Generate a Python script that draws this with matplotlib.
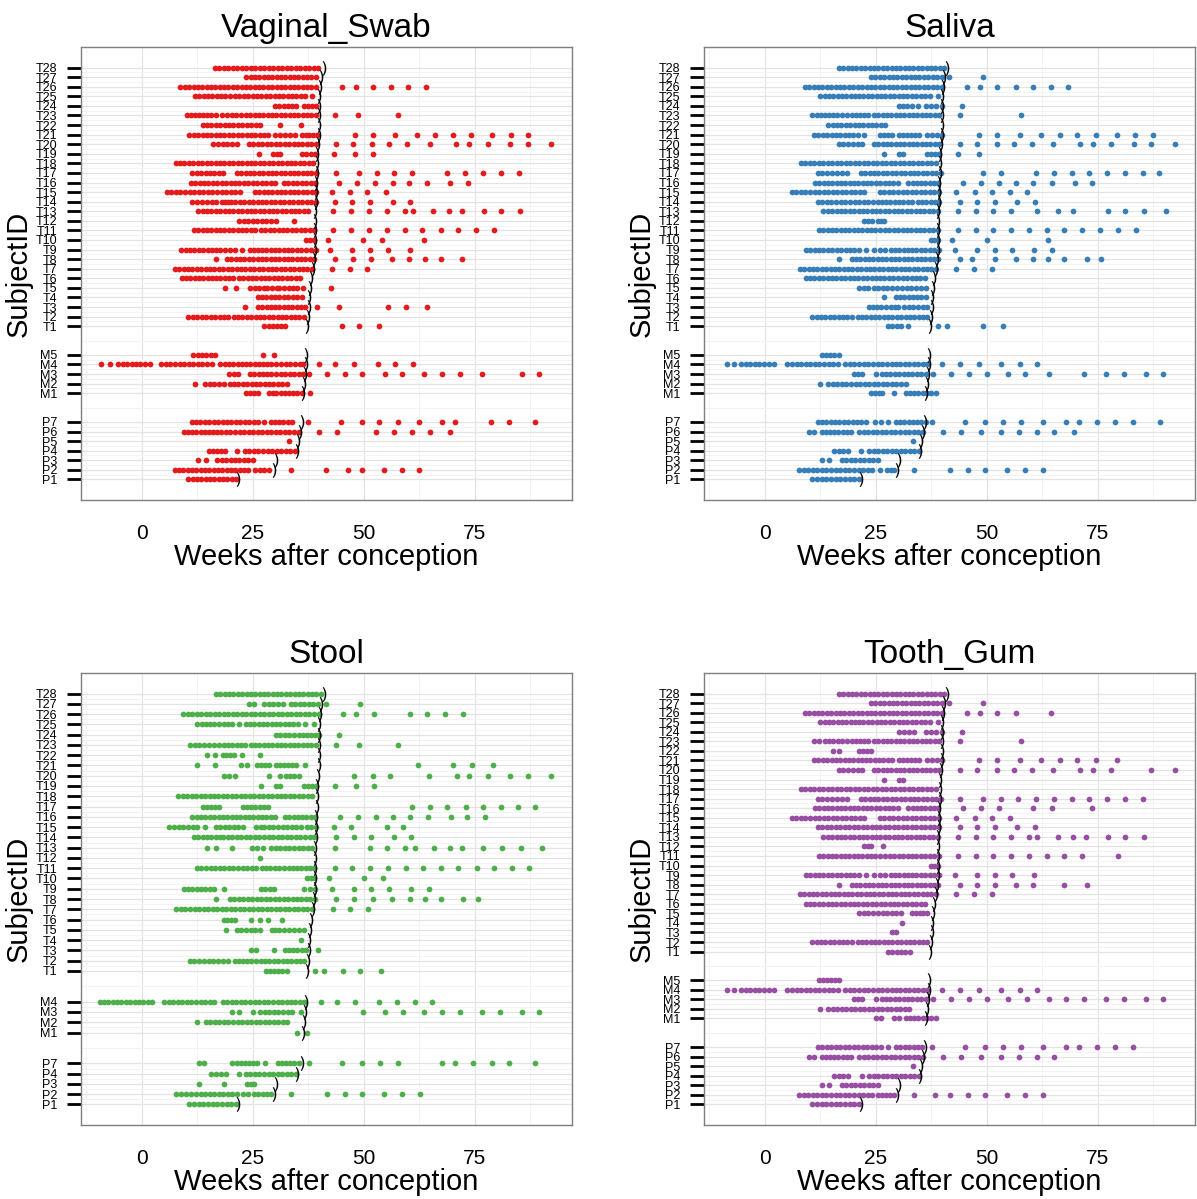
import numpy as np
import matplotlib
matplotlib.use("Agg")
import matplotlib.pyplot as plt

plt.rcParams['font.family'] = ['Liberation Sans', 'DejaVu Sans']

# Sampling weeks per subject. "a:b" is a run of weekly samples from a to b.
vaginal_swab = {
    "T28": "16.4:39.7",
    "T27": "23.5:39.2",
    "T26": "8.7:39.2, 45.2, 48.2, 52.1, 56.2, 60, 64.1",
    "T25": "12:19.8, 21:36.8, 38.4",
    "T24": "30:34.8, 36.5:39.2",
    "T23": "10.1:16.6, 18.1:23.4, 24.4:39.2, 43.6, 48.6, 57.6",
    "T22": "13.7:26.6, 31.1, 35.8",
    "T21": "10.7:20.6, 21.7:28.5, 30:34.5, 36:39.5, 48.1, 52.1, 57.1, 62, 66.1, 70.1, 74.2, 78.9, 83.1, 87.1",
    "T20": "16.1:21.4, 24.1:39.2, 43.8, 47.6, 51.9, 55.7, 59.8, 64.9, 70.7, 73.7, 77.9, 82.9, 86.9, 92.2",
    "T19": "26.4, 29.6:31.1, 36:39, 43.3, 48.1, 52.1",
    "T18": "7.6:38.6",
    "T17": "11.4:18.3, 21.4:39.2, 43.8, 48.9, 52.9, 56.9, 60.9, 68.8, 72.9, 76.9, 80.9, 84.9",
    "T16": "11:30, 32:39, 44.4, 48.4, 52.5, 56.5, 60.2, 64.3, 69.5, 73.5",
    "T15": "5.6:22.1, 25.5:39.2, 42.9, 47, 50.8, 54.9",
    "T14": "11.4:16.8, 18:19.5, 20:39.2, 43.6, 47.4, 51.5, 56.6, 60.5",
    "T13": "12.7:37.5, 43.1, 47.2, 51.2, 55.3, 59.2, 61.1, 65.6, 69.2, 72.1, 77, 81, 85.1",
    "T12": "22:29, 30.2, 34.3",
    "T11": "11.7:25.5, 26.8:38.8, 43.1, 47.2, 51.2, 55.3, 59.2, 63.2, 67.3, 71.2, 75.2, 79.3",
    "T10": "37:38.8, 42, 49.9, 54.2, 63.5",
    "T9": "8.9:16.8, 17.7:21, 22.5, 24.4:27, 28:33, 33.8:39.2, 42.5, 47.4, 51.5, 55.5, 60.4",
    "T8": "16.6, 19.2:38.8, 43.6, 47.6, 51.6, 56.3, 60.2, 63.7, 67.3, 72.2",
    "T7": "7.4:38.3, 42.9, 46.8, 50.7",
    "T6": "9:20.6, 21.9:35.6",
    "T5": "18.7, 21.2, 24.4:27.5, 28.3:30.4, 31:34.1, 34.9:36.2, 42.6",
    "T4": "26.2:28, 29:36",
    "T3": "23.2, 26.2:30, 31:36.8, 39.5, 44.4, 55.5, 59.6, 64.3",
    "T2": "10.5:19.5, 20.7:36.5",
    "T1": "27.6:32.3, 45.1, 48.9, 53.4",
    "M5": "11.6:16.5, 27.4, 29.8",
    "M4": "-9.1, -7.2, -5.3:-2.3, -1.4:1.8, 4.4:15.7, 17.7:28.3, 29.2:35.6, 36.4, 39.9, 43.6, 47.7, 53.1, 57.1, 61.1",
    "M3": "19.7:21.7, 24.4:28.3, 29.2:36.4, 37.7, 41.7, 45.7, 49.6, 54.7, 58.7, 63.6, 67.7, 71.6, 76.6, 85.7, 89.4",
    "M2": "12, 14.2:18.5, 19.8:32.6",
    "M1": "23.5:26.2, 28.7:30.2, 31.3:36, 37.8",
    "P7": "11.2:26.2, 27.5, 29:33.8, 37.5, 44.8, 49.5, 53.4, 57.6, 62.5, 67.6, 70.5, 78.6, 82.6, 88.6",
    "P6": "9.5:11.4, 12.3:19.8, 21:35.3, 39.9, 44, 52.8, 56.9, 60.9, 65, 69.5",
    "P5": "33.2",
    "P4": "15.2:18.7, 21.5, 23.2:34.5",
    "P3": "12.6, 14.4, 17:25",
    "P2": "7.4:24, 25.5:28.7, 33.5, 41.4, 46.5, 49.5, 54.5, 58.5, 62.4",
    "P1": "10.5:21.2",
}

saliva = {
    "T28": "16.7:40.4",
    "T27": "23.9:39.8, 41.6, 49.2",
    "T26": "9:39.8, 45.5, 48.4, 52.4, 56.5, 60.4, 64.5, 68.3",
    "T25": "12.5:20.3, 21.2:37.1, 38.9",
    "T24": "30.2:33.1, 34.6, 36.4:39.8, 44.5",
    "T23": "10.7:17.3, 18.6:23.3, 24.6:39.2, 43.9, 57.8",
    "T22": "14.3:27.1",
    "T21": "11.1:20.9, 22.4, 26:28.7, 30.2:34.7, 36.6:39.8, 48.2, 52.4, 57.4, 62.3, 66.4, 70.4, 74.5, 79.4, 83.3, 87.4",
    "T20": "16.6:22, 24.6:39.2, 44, 47.9, 52.2, 56.1, 60.1, 65, 71, 73.9, 78, 83.1, 87.1, 92.3",
    "T19": "26.9, 30.2:31.1, 36.6:39.2, 43.6, 48.2",
    "T18": "8.1:38.5",
    "T17": "11.9:18.4, 21.6:39.6, 49.1, 53.1, 61, 65.1, 69.1, 73.1, 77.1, 81.1, 85.1, 88.7",
    "T16": "11.3:29.9, 32.3:39.1, 44.6, 48.6, 52.7, 56.5, 60.5, 64.6, 69.8, 73.6",
    "T15": "6.1:22.4, 25.9:39.2, 43.1, 47.3, 51.1, 55.2, 59",
    "T14": "11.9:25.4, 26.3:33.2, 34.4:37.4, 38.3:39.2, 43.9, 47.9, 51.8, 56.7, 60.8",
    "T13": "13.2:38.9, 43.5, 47.5, 51.5, 55.5, 61.4, 66, 69.4, 77.3, 81.2, 85.4, 90.4",
    "T12": "22.4:24.2, 25.4:26.9",
    "T11": "12.2:25.9, 27.1:38.9, 43.5, 47.5, 51.5, 55.5, 59.5, 63.5, 67.5, 71.5, 75.5, 79.5, 83.5",
    "T10": "37.4:38.9, 42.2, 50.1, 63.8",
    "T9": "9.2:21.2, 22.9, 24.6:27.1, 28.4:33.2, 34.1:39.2, 42.8, 47.7, 51.8, 55.6, 60.6, 64.6",
    "T8": "16.7, 19.6:39.1, 43.9, 46.7, 51.8, 56.5, 60.5, 63.8, 67.4, 72.5, 75.8",
    "T7": "7.9:38.5, 43.1, 47.1, 51.1",
    "T6": "9.2:21.1, 22.1:28.9, 30.1:36",
    "T5": "21.2:23.3, 24.6:27.6, 28.7:32.1, 32.9:36.2",
    "T4": "26.9, 29.5:36.2",
    "T3": "23.5:27.2, 28.4:30.1, 31.4:36.6",
    "T2": "10.7:19.6, 20.9:36.6",
    "T1": "27.8:30.6, 32.3, 39, 41.1, 49.2, 53.7",
    "M5": "12.8:16.6",
    "M4": "-8.6, -7, -5.3:-2.3, -1.3:2.1, 5.1:16.4, 18.1:28.6, 29.5:36.6, 39.8, 44, 48.2, 53.3, 57.4, 61.4",
    "M3": "20.1:21.8, 25, 26.3:36.2, 37.9, 41.9, 46, 50, 54.8, 58.7, 64, 72, 76.9, 81, 85.9, 89.6",
    "M2": "12.5, 14.3:31.7",
    "M1": "23.9:26.5, 29.1, 31.7:38.5",
    "P7": "11.9:22.7, 24.8:26.1, 27.8, 29.5:36.2, 37.7, 45, 49.7, 53.7, 57.8, 62.7, 67.9, 70.7, 74.9, 78.8, 82.9, 89",
    "P6": "10:11.1, 12.8:19.4, 21.2:35.6, 40.1, 44.1, 48.6, 53.3, 57.2, 61.2, 65.1, 69.6",
    "P5": "33.4",
    "P4": "15.5:18.8, 21.6, 23.5:34.7",
    "P3": "12.8, 14.5, 17.3:25.4",
    "P2": "7.7:24.2, 25.9, 27.6:29.1, 33.7, 41.7, 45.8, 49.7, 54.6, 58.7, 62.6",
    "P1": "10.7:21.2",
}

stool = {
    "T28": "16.7:40.3",
    "T27": "24.2:25.3, 27.6:31.7, 33.6:39.6, 41.4, 49.2",
    "T26": "9.3:39.8, 45.4, 48.3, 52.3, 60.3, 64.3, 68.2, 72.4",
    "T25": "12.5:17.3, 18.5:20.3, 21.8, 23.4:35.1, 36.8, 38.8",
    "T24": "30.2:35.3, 36.3:39.9, 44.4",
    "T23": "10.8:17.3, 18.5:23.3, 24.5:39.2, 43.8, 48.9, 57.8",
    "T22": "14.6, 16.5, 18.2:20.8, 22.5, 26.7",
    "T21": "12.4, 16.4, 22.3:23.6, 26:28.7, 30.2:34.7, 36.8, 62.3, 70.2, 74.3, 79.2",
    "T20": "18.5:21, 28.7, 31.1, 32.4:35.3, 47.8, 52.1, 55.9, 64.7, 70.9, 73.7, 77.9, 82.9, 86.9, 92.1",
    "T19": "26.8, 30.2:31.1, 36.6:39.2, 43.5, 48.2, 52.2",
    "T18": "8.2:38.4",
    "T17": "13.7:17.3, 22.7:28.5, 60.8, 64.9, 68.8, 73, 76.9, 80.9, 84.8, 88.5",
    "T16": "11.4:30, 32.3:39, 44.6, 48.6, 52.7, 56.5, 60.4, 64.5, 69.6, 73.3, 77.3",
    "T15": "6.2:12.5, 14.2, 16.7:22.7, 25.8:26.8, 27.6:35.8, 37.1:39.2, 43.2, 47.2, 55.2, 58.9",
    "T14": "11.8:17.6, 18.3:38.8, 43.8, 47.8, 51.7, 56.7, 60.7",
    "T13": "14.6, 16.7, 20.4, 24.8:27.2, 29.1:38.4, 43.5, 51.4, 55.3, 59.3, 61.6, 65.8, 69.4, 72.2, 76.9, 81.2, 85.4, 90.2",
    "T12": "26.7",
    "T11": "12.4:25.8, 27:30.9, 32.1:38.8, 43.5, 47.4, 51.4, 55.5, 59.5, 63.4, 67.3, 71.3, 75.4, 79.4, 83.3, 87.2",
    "T10": "37.3:38.8, 42.2, 50.1, 54.4",
    "T9": "9.4:16.3, 18.4, 26.8:29.8, 36.6:39, 42.8, 47.7, 51.7, 55.6, 60.6, 64.6",
    "T8": "16.8, 19.8:39, 43.8, 47.8, 52, 56.3, 60.4, 63.7, 67.3, 72.4, 75.7",
    "T7": "7.8:38.3, 43.1, 46.9, 51",
    "T6": "18.4:21, 24.5, 26.6, 28.5, 31.5",
    "T5": "18.9, 21.4:26.6, 29.3:30.8, 32.1:36.6",
    "T4": "35.8",
    "T3": "24.5:25.7, 29.8, 32.3:36.9, 39.7",
    "T2": "10.8:19.3, 21:24.5, 25.8:36.6",
    "T1": "27.9:32.6, 39, 41.1, 45.3, 49.2, 53.8",
    "M4": "-9.5:2.3, 5:16.3, 18.2:28.5, 29.6:36.6, 40.3, 43.9, 48, 53.5, 57.4, 61.5, 65.3",
    "M3": "20.4:21.8, 25, 26.6:33.9, 35.9, 49.9, 54.8, 58.8, 63.6, 67.6, 71.7, 76.7, 80.7, 85.7, 89.5",
    "M2": "12.5, 14.4:32.8",
    "M1": "35, 37.1",
    "P7": "12.8:14, 20.4:26, 27.8, 30.6:35.3, 37.7, 45, 49.7, 53.7, 57.8, 67.7, 70.6, 74.7, 78.8, 82.7, 88.6",
    "P4": "15.5:18.9, 21.8, 23.4:34.7",
    "P3": "12.9, 18.4, 23.8:25.3",
    "P2": "7.7:12.2, 13.3:20.4, 21.5:24, 25.3:29.1, 33.7, 41.7, 45.7, 49.7, 54.6, 58.6, 62.6",
    "P1": "10.7:21.2",
}

tooth_gum = {
    "T28": "16.7:40.4",
    "T27": "23.9:39.8, 41.6, 49.2",
    "T26": "9:39.8, 45.5, 48.4, 52.4, 56.5, 64.5",
    "T25": "12.5:20.3, 21.2:37.1, 38.9",
    "T24": "30.2:33.6, 36.4:39.8, 44.5",
    "T23": "11.1:12.2, 13.6:17.3, 18.6:23.3, 24.6:39.2, 43.9, 57.8",
    "T22": "15.4:16.7, 21.2:23.9",
    "T21": "11.1:20.9, 21.8:28.7, 30.2:34.7, 36.6:39.8, 48.2, 52.4, 57.4, 62.3, 66.4, 70.4, 74.5, 79.4",
    "T20": "16.6:22, 24.6:39.2, 44, 47.9, 52.2, 56.1, 60.1, 65, 71, 73.9, 78, 87.1, 92.3",
    "T19": "26.9, 30.2:31.1",
    "T18": "8.1:38.5",
    "T17": "11.9:18.4, 21.6:39.6, 44, 49.1, 53.1, 57.1, 61, 65.1, 69.1, 73.1, 77.1, 81.1, 85.1",
    "T16": "11.3:29.9, 32.3:39.1, 44.6, 48.6, 52.7, 60.5, 64.6, 73.6",
    "T15": "6.1:22.4, 25.9:39.2, 43.1, 47.3, 51.1, 55.2",
    "T14": "11.9:39.2, 43.9, 47.9, 51.8, 56.7, 60.8",
    "T13": "13.2:38.9, 43.5, 47.5, 51.5, 55.5, 59.5, 61.4, 66, 69.4, 72.4, 77.3, 81.2, 85.4",
    "T12": "22.4:23.9, 26.6",
    "T11": "12.2:25.9, 27.1:39.2, 43.5, 47.5, 51.5, 55.5, 59.5, 63.5, 67.5, 71.5, 79.5",
    "T10": "37.4:38.9",
    "T9": "9.2:21.2, 22.9, 24.6:27.1, 28.4:33.2, 34.1:39.2, 42.8, 47.7, 51.8, 55.6, 60.6",
    "T8": "16.7, 19.6:39.1, 43.9, 47.9, 51.8, 56.5, 60.5, 67.5, 72.5",
    "T7": "7.9:38.5, 43.1, 47.1, 51.1",
    "T6": "9.2:21.1, 22.1:36.1",
    "T5": "21.2:27.6, 28.7:30.6, 33.1:36.6",
    "T4": "30.8",
    "T3": "28.6:29.6",
    "T2": "10.7:19.6, 20.9:36.6",
    "T1": "27.8:32.6",
    "M5": "12.1:16.7",
    "M4": "-8.6, -7, -5.3:-2.3, -1.3:2.1, 5.1:16.4, 18.1:28.6, 29.5:36.6, 39.8, 44, 48.2, 53.3, 57.4, 61.4",
    "M3": "20.1:21.8, 25, 26.3:36.2, 37.9, 41.9, 46, 50, 54.8, 59, 64, 67.9, 72, 76.9, 81, 85.9, 89.6",
    "M2": "12.5, 14.3:32.5",
    "M1": "25:26.1, 29.1:30.2, 31.7:38.5",
    "P7": "11.9:26.1, 27.8, 29.5:35.5, 37.7, 45, 49.7, 53.7, 57.8, 62.7, 67.9, 70.7, 74.9, 78.8, 82.9",
    "P6": "10:11.1, 12.8:19.4, 21.2:35.6, 40.1, 44.1, 48.6, 53.3, 57.2, 61.2, 65.1",
    "P5": "33.4",
    "P4": "15.5:18.8, 21.8, 23.5:34.7",
    "P3": "12.8, 14.5, 17.3:25.4",
    "P2": "7.7:24.2, 25.6:29.1, 33.7, 38.3, 41.7, 45.8, 49.7, 54.6, 58.7, 62.6",
    "P1": "10.7:21.2",
}

# Week of delivery per subject, drawn as ")"
delivery = {
    "T28": 41.0, "T27": 40.4, "T26": 40.2, "T25": 40.0, "T24": 40.0, "T23": 39.9,
    "T22": 39.8, "T21": 39.8, "T20": 39.6, "T19": 39.5, "T18": 39.4, "T17": 39.4,
    "T16": 39.3, "T15": 39.3, "T14": 39.2, "T13": 39.1, "T12": 39.1, "T11": 39.0,
    "T10": 39.0, "T9": 38.9, "T8": 38.8, "T7": 38.5, "T6": 38.1, "T5": 37.8,
    "T4": 37.7, "T3": 37.6, "T2": 37.4, "T1": 37.3,
    "M5": 37.0, "M4": 36.9, "M3": 36.7, "M2": 36.5, "M1": 36.2,
    "P7": 36.1, "P6": 35.7, "P5": 35.2, "P4": 35.0, "P3": 30.2, "P2": 29.8, "P1": 21.6,
}

groups = [
    ["P%d" % i for i in range(1, 8)],
    ["M%d" % i for i in range(1, 6)],
    ["T%d" % i for i in range(1, 29)],
]

panels = [
    ("Vaginal_Swab", vaginal_swab, "#E41A1C"),
    ("Saliva", saliva, "#377EB8"),
    ("Stool", stool, "#4DAF4A"),
    ("Tooth_Gum", tooth_gum, "#984EA3"),
]


def weeks(spec):
    out = []
    for part in spec.split(","):
        part = part.strip()
        if ":" in part:
            a, b = map(float, part.split(":"))
            n = int(round(b - a)) + 1
            out.extend(np.linspace(a, b, n))
        else:
            out.append(float(part))
    return np.array(out)


def positions(data):
    # consecutive rows within a group, two empty rows between groups
    pos = {}
    y = 1
    for g in groups:
        present = [s for s in g if s in data]
        for s in present:
            pos[s] = y
            y += 1
        y += 2
    return pos


W, H = 1197, 1199
fig = plt.figure(figsize=(W / 100, H / 100), dpi=100)
boxes = [
    (81, 47, 491, 453), (704, 47, 491, 453),
    (81, 673, 491, 452), (704, 673, 491, 452),
]

for (title, data, color), (l, t, w, h) in zip(panels, boxes):
    ax = fig.add_axes([l / W, 1 - (t + h) / H, w / W, h / H])
    pos = positions(data)
    subjects = list(data)
    for subj in subjects:
        x = weeks(data[subj])
        ax.scatter(x, np.full(len(x), pos[subj]), s=17, color=color,
                   linewidths=0, zorder=3)
    # delivery marks
    ax.scatter([delivery[s] for s in subjects], [pos[s] for s in subjects],
               marker="$)$", s=110, color="black", linewidths=0, zorder=4)

    ys = sorted(pos.values())
    yr = ys[-1] - ys[0]
    ax.set_ylim(ys[0] - 0.05 * yr, ys[-1] + 0.05 * yr)
    ax.set_xlim(-13.7, 96.9)

    names = sorted(pos, key=pos.get)
    ax.set_yticks([pos[s] for s in names])
    ax.set_yticklabels(names, fontsize=9)
    ax.set_yticks([(a + b) / 2 for a, b in zip(ys[:-1], ys[1:])], minor=True)
    ax.set_xticks([0, 25, 50, 75])
    ax.set_xticks([-12.5, 12.5, 37.5, 62.5, 87.5], minor=True)
    ax.tick_params(axis="x", labelsize=15, length=0, pad=17)
    ax.tick_params(axis="x", which="minor", length=0)
    ax.tick_params(axis="y", which="major", length=10, width=2, color="black", pad=7)
    ax.tick_params(axis="y", which="minor", length=0)

    ax.grid(True, which="major", color="#E3E3E3", lw=0.9, zorder=0)
    ax.grid(True, which="minor", color="#F3F3F3", lw=0.7, zorder=0)
    ax.set_axisbelow(True)
    for sp in ax.spines.values():
        sp.set_color("#7F7F7F")
        sp.set_linewidth(1.0)

    ax.set_title(title, fontsize=24, pad=7)
    ax.set_xlabel("Weeks after conception", fontsize=21, labelpad=0)
    ax.set_ylabel("SubjectID", fontsize=21, labelpad=2)

fig.savefig("out.png", dpi=100)
